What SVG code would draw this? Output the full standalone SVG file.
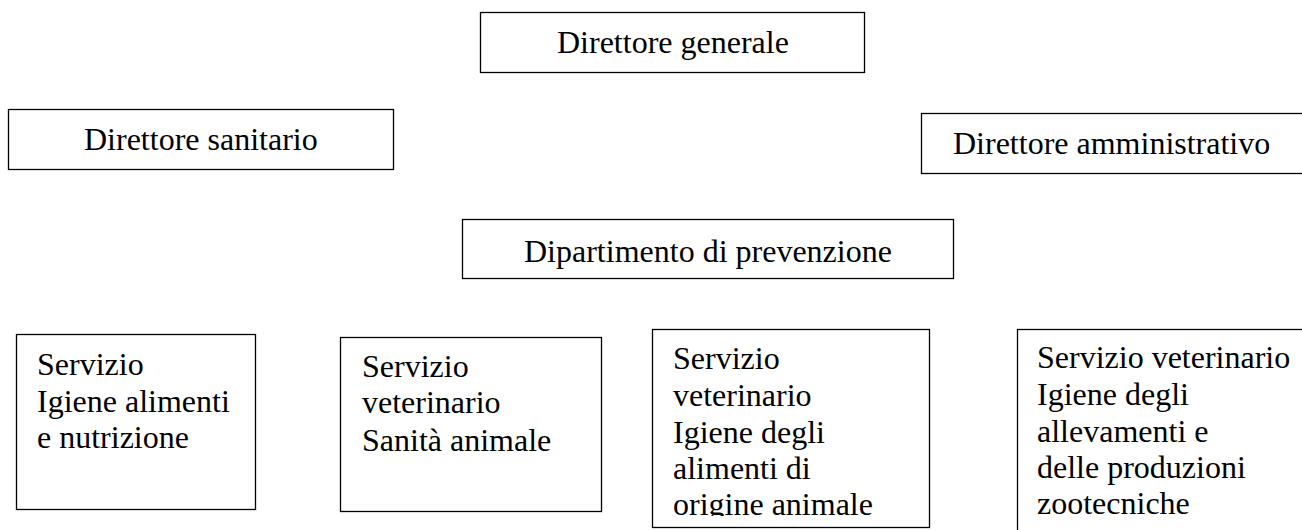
<svg xmlns="http://www.w3.org/2000/svg" width="1302" height="530" viewBox="0 0 1302 530">
  <style>
    .box { fill: #ffffff; stroke: #000000; stroke-width: 1.3; }
    .t { font-family: "Liberation Serif", "Times New Roman", serif; font-size: 32px; fill: #000000; }
  </style>
  <defs>
    <clipPath id="clip7"><rect x="652" y="329" width="277" height="187"/></clipPath>
  </defs>
  <rect x="0" y="0" width="1302" height="530" fill="#ffffff"/>
  <g id="connectors"></g>
  <g id="n-direttore-generale">
    <rect class="box" x="480.5" y="12.5" width="384" height="60"/>
    <text class="t" x="557" y="53">Direttore generale</text>
  </g>
  <g id="n-direttore-sanitario">
    <rect class="box" x="8.5" y="109.5" width="385" height="60"/>
    <text class="t" x="84" y="150">Direttore sanitario</text>
  </g>
  <g id="n-direttore-amministrativo">
    <rect class="box" x="921.5" y="113.5" width="400" height="60"/>
    <text class="t" x="953" y="154">Direttore amministrativo</text>
  </g>
  <g id="n-dipartimento">
    <rect class="box" x="462.5" y="219.5" width="491" height="59"/>
    <text class="t" x="524" y="262">Dipartimento di prevenzione</text>
  </g>
  <g id="n-servizio-igiene-alimenti">
    <rect class="box" x="16.5" y="334.5" width="239" height="175"/>
    <text class="t" x="37" y="375">Servizio</text>
    <text class="t" x="37" y="412">Igiene alimenti</text>
    <text class="t" x="37" y="448">e nutrizione</text>
  </g>
  <g id="n-servizio-sanita-animale">
    <rect class="box" x="340.5" y="337.5" width="261" height="174"/>
    <text class="t" x="362" y="377">Servizio</text>
    <text class="t" x="362" y="413">veterinario</text>
    <text class="t" x="362" y="451">Sanità animale</text>
  </g>
  <g id="n-servizio-igiene-alimenti-origine-animale">
    <rect class="box" x="652.5" y="329.5" width="277" height="198"/>
    <g clip-path="url(#clip7)">
      <text class="t" x="673" y="369">Servizio</text>
      <text class="t" x="673" y="406">veterinario</text>
      <text class="t" x="673" y="443">Igiene degli</text>
      <text class="t" x="673" y="479">alimenti di</text>
      <text class="t" x="673" y="515">origine animale</text>
    </g>
  </g>
  <g id="n-servizio-igiene-allevamenti">
    <rect class="box" x="1017.5" y="329.5" width="300" height="220"/>
    <text class="t" x="1037" y="368">Servizio veterinario</text>
    <text class="t" x="1037" y="405">Igiene degli</text>
    <text class="t" x="1037" y="442">allevamenti e</text>
    <text class="t" x="1037" y="478">delle produzioni</text>
    <text class="t" x="1037" y="514">zootecniche</text>
  </g>
</svg>
